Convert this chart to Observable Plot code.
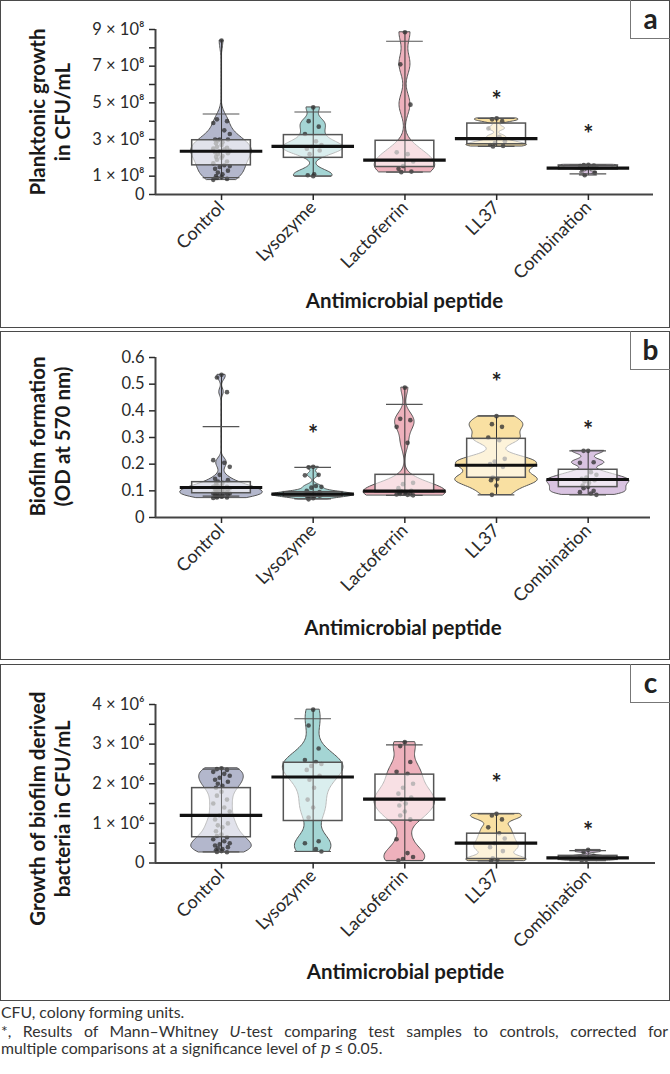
<!DOCTYPE html>
<html><head><meta charset="utf-8">
<script src="https://cdn.jsdelivr.net/npm/d3@7"></script>
<script src="https://cdn.jsdelivr.net/npm/@observablehq/plot@0.6"></script>
<style>
body{margin:0;background:#fff;font-family:Lato,sans-serif;}
#fig{position:relative;width:670px;height:1074px;}
.panel{position:absolute;left:0;width:670px;}
.panel svg{position:absolute;left:0;top:0;overflow:visible;}
.frame{position:absolute;inset:0;border:1.5px solid #4a4a4a;box-sizing:border-box;pointer-events:none;}
.tag{position:absolute;right:0;top:0;width:40px;height:39px;border-left:1px solid #777;border-bottom:1px solid #777;box-sizing:border-box;font:bold 28px Lato;color:#222;display:flex;align-items:center;justify-content:center;padding-bottom:3px;}
#cap{position:absolute;left:1px;top:1003px;width:667px;font:15.8px Lato;color:#333;line-height:17px;}
#cap p{margin:0 0 2px 0;}
#cap .j{display:block;text-align:justify;text-align-last:justify;}
</style></head>
<body><div id="fig"></div>
<script>
const categories = ["Control", "Lysozyme", "Lactoferrin", "LL37", "Combination"];
const fills = ["#b3b7cc", "#a4d5d4", "#eeb1bc", "#f9e0a2", "#d9c3e1"];
const xTitle = "Antimicrobial peptide";

// Panel a: planktonic growth (×10^8 CFU/mL)
const aControl = [8.4, 4.1, 4.0, 3.9, 3.5, 3.3, 3.0, 3.0, 3.0, 2.95, 2.85, 2.8, 2.7, 2.6, 2.55, 2.5, 2.45, 2.4, 2.35, 2.3, 2.25, 2.2, 2.1, 2.05, 2.0, 1.9, 1.8, 1.7, 1.6, 1.55, 1.5, 1.4, 1.3, 1.2, 1.1, 1.0, 0.95, 0.9, 0.85, 0.8];
const aLysozyme = [4.75, 4.0, 3.7, 3.3, 2.9, 2.7, 2.6, 2.5, 2.4, 2.2, 1.1, 1.05, 1.0];
const aLactoferrin = [8.85, 7.1, 4.9, 2.3, 2.2, 1.8, 1.55, 1.4, 1.25, 1.22];
const aLL37 = [4.15, 4.1, 4.0, 3.6, 3.15, 2.9, 2.8, 2.7, 2.65, 2.62];
const aCombination = [1.62, 1.6, 1.58, 1.55, 1.5, 1.47, 1.43, 1.38, 1.2, 1.05];
const aMedian = [2.36, 2.63, 1.87, 3.05, 1.44];
const aQ1 = [1.59, 2.0, 1.5, 2.74, 1.37];
const aQ3 = [2.96, 3.24, 2.93, 3.87, 1.55];
const aCapLow = [0.92, 1.0, 1.22, 2.62, 1.13];
const aCapHigh = [4.39, 4.5, 8.36, 4.15, 1.6];
const aStar = [null, null, null, 5.46, 3.6];
const aTicks = [0, 1, 2, 3, 4, 5, 6, 7, 8, 9];
const aTickLabels = ["0", "1 × 10⁸", "", "3 × 10⁸", "", "5 × 10⁸", "", "7 × 10⁸", "", "9 × 10⁸"];

// Panel b: biofilm formation (OD at 570 nm)
const bControl = [0.535, 0.525, 0.47, 0.215, 0.205, 0.19, 0.16, 0.145, 0.14, 0.135, 0.13, 0.125, 0.12, 0.12, 0.115, 0.115, 0.11, 0.11, 0.11, 0.105, 0.105, 0.1, 0.1, 0.1, 0.1, 0.095, 0.095, 0.09, 0.09, 0.09, 0.085, 0.085, 0.085, 0.08, 0.08, 0.08, 0.078, 0.075, 0.075, 0.073];
const bLysozyme = [0.19, 0.188, 0.16, 0.158, 0.118, 0.115, 0.112, 0.1, 0.095, 0.092, 0.09, 0.09, 0.088, 0.088, 0.087, 0.086, 0.085, 0.085, 0.084, 0.083, 0.082, 0.08, 0.078, 0.075, 0.072, 0.068];
const bLactoferrin = [0.487, 0.37, 0.365, 0.34, 0.28, 0.13, 0.125, 0.11, 0.1, 0.098, 0.095, 0.092, 0.09, 0.088, 0.087, 0.086, 0.085, 0.083];
const bLL37 = [0.38, 0.35, 0.34, 0.3, 0.29, 0.22, 0.21, 0.2, 0.19, 0.15, 0.145, 0.14, 0.12, 0.085];
const bCombination = [0.25, 0.25, 0.207, 0.205, 0.17, 0.16, 0.15, 0.145, 0.14, 0.135, 0.13, 0.12, 0.115, 0.11, 0.1, 0.095, 0.09, 0.085];
const bMedian = [0.1125, 0.088, 0.099, 0.196, 0.1425];
const bQ1 = [0.091, 0.078, 0.095, 0.149, 0.114];
const bQ3 = [0.1325, 0.095, 0.16, 0.295, 0.179];
const bCapLow = [0.08, 0.07, 0.083, 0.085, 0.085];
const bCapHigh = [0.341, 0.188, 0.424, 0.38, 0.25];
const bStar = [null, 0.334, null, 0.529, 0.349];
const bTicks = [0, 0.1, 0.2, 0.3, 0.4, 0.5, 0.6];
const bTickLabels = ["0", "0.1", "0.2", "0.3", "0.4", "0.5", "0.6"];

// Panel c: growth of biofilm derived bacteria (×10^6 CFU/mL)
const cControl = [2.39, 2.37, 2.35, 2.3, 2.25, 2.2, 2.15, 2.1, 2.05, 2.0, 1.95, 1.9, 1.8, 1.7, 1.6, 1.5, 1.4, 1.3, 1.2, 1.1, 1.0, 0.95, 0.9, 0.8, 0.72, 0.68, 0.65, 0.6, 0.55, 0.5, 0.47, 0.44, 0.4, 0.37, 0.35, 0.32, 0.3, 0.28, 0.27];
const cLysozyme = [3.87, 3.47, 2.89, 2.6, 2.55, 2.5, 2.45, 2.35, 2.2, 2.1, 1.9, 1.6, 1.4, 1.15, 0.55, 0.5, 0.35, 0.29];
const cLactoferrin = [3.05, 2.95, 2.55, 2.3, 2.25, 2.0, 1.9, 1.75, 1.65, 1.6, 1.5, 1.45, 1.3, 1.2, 1.1, 0.6, 0.25, 0.15, 0.1, 0.06];
const cLL37 = [1.24, 1.2, 1.1, 0.9, 0.75, 0.62, 0.5, 0.4, 0.3, 0.12, 0.08, 0.05];
const cCombination = [0.33, 0.28, 0.18, 0.14, 0.12, 0.1, 0.08, 0.06];
const cMedian = [1.2, 2.17, 1.61, 0.5, 0.13];
const cQ1 = [0.65, 1.06, 1.07, 0.1, 0.08];
const cQ3 = [1.89, 2.53, 2.23, 0.74, 0.18];
const cCapLow = [0.28, 0.29, 0.06, 0.05, 0.06];
const cCapHigh = [2.37, 3.64, 2.98, 1.24, 0.31];
const cStar = [null, null, null, 2.17, 0.96];
const cTicks = [0, 0.5, 1, 1.5, 2, 2.5, 3, 3.5, 4];
const cTickLabels = ["0", "", "1 × 10⁶", "", "2 × 10⁶", "", "3 × 10⁶", "", "4 × 10⁶"];

const jit = [0, -0.05, 0.06, -0.09, 0.03, 0.09, -0.02, -0.07, 0.07, -0.04, 0.01, -0.06];

function violin(vals, i, half) {
  const s = d3.sort(vals), n = s.length;
  const sd = d3.deviation(s);
  const iqr = d3.quantile(s, 0.75) - d3.quantile(s, 0.25);
  const lo = s[0], hi = s[n - 1], N = 100;
  const silver = 0.9 * Math.min(sd, (iqr / 1.34) || sd) * Math.pow(n, -0.2);
  const h = Math.min(silver, 0.075 * (hi - lo));
  const ys = d3.range(N + 1).map(k => lo + (hi - lo) * k / N);
  const dens = ys.map(y => d3.sum(s, v => Math.exp(-0.5 * ((y - v) / h) ** 2)));
  const m = d3.max(dens);
  return ys.map((y, k) => ({cat: categories[i], y, x1: i - half * dens[k] / m, x2: i + half * dens[k] / m}));
}

function panel(cfg) {
  const {groups, med, q1, q3, capLo, capHi, star, ticks, tickLabels} = cfg;
  const vio = groups.flatMap((g, i) => violin(g, i, cfg.half));
  const pts = groups.flatMap((g, i) => g.map((v, j) => ({i, v, o: jit[j % jit.length]})));
  const stats = categories.map((c, i) => ({i, cat: c, med: med[i], q1: q1[i], q3: q3[i],
    lo: d3.min(groups[i]), hi: d3.max(groups[i]), capLo: capLo[i], capHi: capHi[i]}));
  const caps = stats.flatMap(d => [{i: d.i, v: d.capLo}, {i: d.i, v: d.capHi}]);
  const stars = star.map((v, i) => ({i, v})).filter(d => d.v != null);
  const lab = new Map(ticks.map((t, k) => [t, tickLabels[k]]));
  return Plot.plot({
    width: 670, height: cfg.height,
    marginLeft: 155, marginRight: cfg.mr, marginTop: cfg.mt, marginBottom: cfg.mb,
    style: {fontFamily: "Lato, sans-serif", fontSize: "17px", color: "#2a2a2a", background: "transparent", overflow: "visible"},
    x: {domain: cfg.xDomain},
    y: {domain: cfg.yDomain},
    color: {domain: categories, range: fills},
    marks: [
      Plot.areaX(vio, {y: "y", x1: "x1", x2: "x2", z: "cat", fill: "cat", stroke: "#555", strokeWidth: 1}),
      Plot.ruleX(stats, {x: "i", y1: "lo", y2: "hi", stroke: "#333", strokeWidth: 1}),
      Plot.dot(pts, {x: d => d.i + d.o, y: "v", r: 2.3, fill: "#333", fillOpacity: 0.78, stroke: null}),
      Plot.rect(stats, {x1: d => d.i - cfg.boxHalf, x2: d => d.i + cfg.boxHalf, y1: "q1", y2: "q3", fill: "white", fillOpacity: 0.6, stroke: "#555", strokeWidth: 1.5}),
      Plot.ruleX(stats, {x: "i", y1: "q1", y2: "q3", stroke: "#444", strokeWidth: 1, strokeOpacity: 0.6}),
      Plot.ruleY(caps, {y: "v", x1: d => d.i - 0.2, x2: d => d.i + 0.2, stroke: "#555", strokeWidth: 1.2}),
      Plot.ruleY(stats, {y: "med", x1: d => d.i - 0.45, x2: d => d.i + 0.45, stroke: "#111", strokeWidth: 3.2}),
      Plot.text(stars, {x: "i", y: "v", text: () => "*", fontSize: 24, fontWeight: "bold", fill: "#222", dy: 7}),
      Plot.ruleY([0], {stroke: "#444", strokeWidth: 2}),
      Plot.ruleX([cfg.xDomain[0]], {stroke: "#444", strokeWidth: 2}),
      Plot.axisY({ticks, tickFormat: t => lab.get(t), tickSize: 6, tickPadding: 5, strokeWidth: 1.5, fontSize: 16.5, label: null}),
      Plot.axisX({ticks: [0, 1, 2, 3, 4], tickFormat: i => categories[i], tickRotate: -45, tickSize: 6, tickPadding: 4, strokeWidth: 1.5, fontSize: 18, label: null}),
      Plot.text([cfg.yTitle], {frameAnchor: "left", textAnchor: "middle", lineAnchor: "middle", rotate: -90, dx: -106, dy: cfg.titleDy, fontSize: 20.5, fontWeight: "bold", lineHeight: 1.22, fill: "#1a1a1a"}),
      Plot.text([xTitle], {frameAnchor: "bottom", dy: cfg.xTitleDy, fontSize: 20.5, fontWeight: "bold", fill: "#1a1a1a"})
    ]
  });
}

const configs = [
  {tag: "a", top: 0, height: 328, mt: 29, mb: 134, mr: 17, xDomain: [-0.72, 4.71], yDomain: [0, 9],
   groups: [aControl, aLysozyme, aLactoferrin, aLL37, aCombination], med: aMedian, q1: aQ1, q3: aQ3, capLo: aCapLow, capHi: aCapHigh, star: aStar,
   ticks: aTicks, tickLabels: aTickLabels, half: 0.33, boxHalf: 0.32, yTitle: "Planktonic growth\nin CFU/mL", titleDy: 0, xTitleDy: 113},
  {tag: "b", top: 331, height: 329, mt: 26, mb: 143, mr: 20, xDomain: [-0.72, 4.68], yDomain: [0, 0.6],
   groups: [bControl, bLysozyme, bLactoferrin, bLL37, bCombination], med: bMedian, q1: bQ1, q3: bQ3, capLo: bCapLow, capHi: bCapHigh, star: bStar,
   ticks: bTicks, tickLabels: bTickLabels, half: 0.45, boxHalf: 0.32, yTitle: "Biofilm formation\n(OD at 570 nm)", titleDy: -1, xTitleDy: 117},
  {tag: "c", top: 664, height: 337, mt: 40, mb: 138.5, mr: 15, xDomain: [-0.72, 4.735], yDomain: [0, 4],
   groups: [cControl, cLysozyme, cLactoferrin, cLL37, cCombination], med: cMedian, q1: cQ1, q3: cQ3, capLo: cCapLow, capHi: cCapHigh, star: cStar,
   ticks: cTicks, tickLabels: cTickLabels, half: 0.33, boxHalf: 0.32, yTitle: "Growth of biofilm derived\nbacteria in CFU/mL", titleDy: 25, xTitleDy: 116}
];

const fig = document.getElementById("fig");
for (const cfg of configs) {
  const div = document.createElement("div");
  div.className = "panel";
  div.style.top = cfg.top + "px";
  div.style.height = cfg.height + "px";
  div.appendChild(panel(cfg));
  const fr = document.createElement("div"); fr.className = "frame"; div.appendChild(fr);
  const tg = document.createElement("div"); tg.className = "tag"; tg.textContent = cfg.tag; div.appendChild(tg);
  fig.appendChild(div);
}
const cap = document.createElement("div");
cap.id = "cap";
cap.innerHTML = '<p>CFU, colony forming units.</p><p><span class="j">*, Results of Mann–Whitney <i>U</i>-test comparing test samples to controls, corrected for</span>multiple comparisons at a significance level of <i style="font-family:\'DejaVu Serif\',serif">p</i> ≤ 0.05.</p>';
fig.appendChild(cap);
</script>
</body></html>
